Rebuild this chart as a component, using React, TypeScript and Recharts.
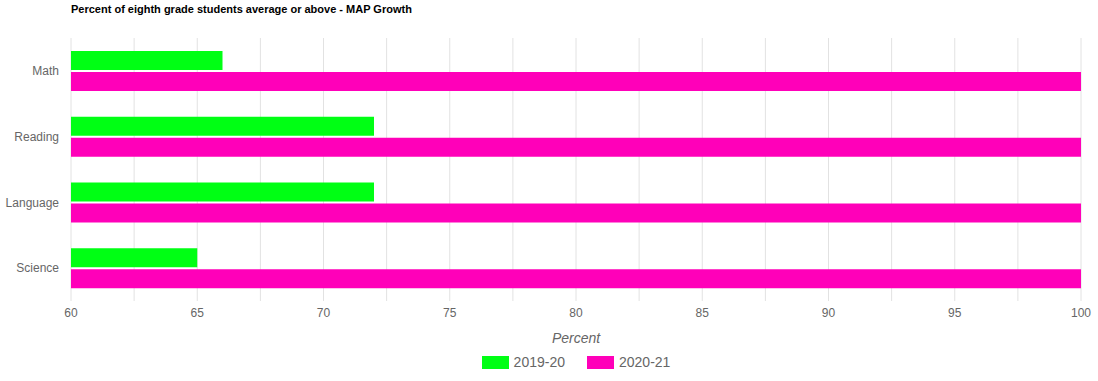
import { BarChart, Bar, XAxis, YAxis, CartesianGrid, Legend } from "recharts"

const subjects = ["Math", "Reading", "Language", "Science"]
const year2019 = [66, 72, 72, 65]
const year2021 = [100, 100, 100, 100]
const gridTicks = [60, 62.5, 65, 67.5, 70, 72.5, 75, 77.5, 80, 82.5, 85, 87.5, 90, 92.5, 95, 97.5, 100]

const series = [
  { key: "y2019", name: "2019-20", color: "#00ff14" },
  { key: "y2021", name: "2020-21", color: "#ff00b9" },
]

const data = subjects.map((s, i) => ({ subject: s, y2019: year2019[i], y2021: year2021[i] }))

const font = "'Liberation Sans', Arial, Helvetica, sans-serif"

function LegendBox() {
  return (
    <div style={{ display: "flex", justifyContent: "center", paddingLeft: 54, fontFamily: font, fontSize: 14, color: "#666", height: 22, alignItems: "center" }}>
      {series.map((s) => (
        <div key={s.key} style={{ display: "flex", alignItems: "center", margin: "0 11px" }}>
          <span style={{ display: "inline-block", width: 27, height: 13, background: s.color, marginRight: 5 }} />
          {s.name}
        </div>
      ))}
    </div>
  )
}

export default function App() {
  return (
    <div style={{ position: "absolute", left: 0, top: 0, width: 1098, height: 381, background: "#fff" }}>
      <div style={{ position: "absolute", left: 71, top: 3, fontFamily: font, fontWeight: "bold", fontSize: 11, color: "#000" }}>
        Percent of eighth grade students average or above - MAP Growth
      </div>
      <BarChart
        width={1098}
        height={381}
        data={data}
        layout="vertical"
        margin={{ top: 38, right: 17, left: 0, bottom: 8 }}
        barSize={19}
        barGap={2}
      >
        <CartesianGrid horizontal={false} stroke="#e2e2e2" />
        <XAxis
          type="number"
          domain={[60, 100]}
          ticks={gridTicks}
          interval={0}
          allowDataOverflow
          height={50}
          axisLine={false}
          tickLine={false}
          tickSize={0}
          tickMargin={7}
          tickFormatter={(v: number) => (v % 5 === 0 ? String(v) : "")}
          tick={{ fill: "#666", fontSize: 12, fontFamily: font }}
          label={{ value: "Percent", position: "insideBottom", offset: 8, fill: "#666", fontSize: 14, fontStyle: "italic", fontFamily: font }}
        />
        <YAxis
          type="category"
          dataKey="subject"
          width={71}
          axisLine={false}
          tickLine={false}
          tickSize={0}
          tickMargin={12}
          tick={{ fill: "#666", fontSize: 12, fontFamily: font }}
        />
        <Legend verticalAlign="bottom" height={22} wrapperStyle={{ left: 0, width: 1098 }} content={<LegendBox />} />
        {series.map((s) => (
          <Bar key={s.key} dataKey={s.key} name={s.name} fill={s.color} isAnimationActive={false} />
        ))}
      </BarChart>
    </div>
  )
}
